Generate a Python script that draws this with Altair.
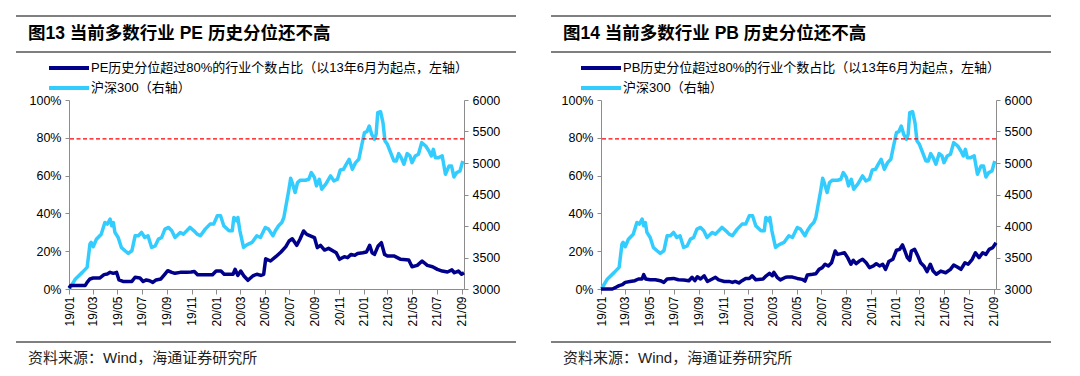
import altair as alt
import pandas as pd

# ---------------- text ----------------
CSI_LABEL = "沪深300（右轴）"
PE_LABEL = "PE历史分位超过80%的行业个数占比（以13年6月为起点，左轴）"
PB_LABEL = "PB历史分位超过80%的行业个数占比（以13年6月为起点，左轴）"
TITLE_L = "图13 当前多数行业 PE 历史分位还不高"
TITLE_R = "图14 当前多数行业 PB 历史分位还不高"
SOURCE = "资料来源：Wind，海通证券研究所"
THRESHOLD = [79.4]

# ---------------- data ----------------
csi_dates = [
    "2019-01-02", "2019-01-17", "2019-02-03", "2019-02-15", "2019-02-22", "2019-02-25",
    "2019-03-02", "2019-03-10", "2019-03-22", "2019-03-31", "2019-04-06", "2019-04-13",
    "2019-04-17", "2019-04-21", "2019-04-25", "2019-05-03", "2019-05-11", "2019-05-20",
    "2019-05-28", "2019-06-06", "2019-06-14", "2019-06-22", "2019-06-30", "2019-07-08",
    "2019-07-16", "2019-07-25", "2019-08-03", "2019-08-11", "2019-08-19", "2019-08-27",
    "2019-09-05", "2019-09-13", "2019-09-21", "2019-10-04", "2019-10-12", "2019-10-28",
    "2019-11-07", "2019-11-15", "2019-11-23", "2019-12-05", "2019-12-17", "2019-12-26",
    "2020-01-04", "2020-01-12", "2020-01-20", "2020-02-02", "2020-02-10", "2020-02-14",
    "2020-02-21", "2020-02-24", "2020-02-29", "2020-03-09", "2020-03-17", "2020-03-30",
    "2020-04-11", "2020-04-20", "2020-05-02", "2020-05-10", "2020-05-21", "2020-05-27",
    "2020-06-04", "2020-06-12", "2020-06-17", "2020-06-23", "2020-06-29", "2020-07-04",
    "2020-07-09", "2020-07-15", "2020-07-21", "2020-07-28", "2020-08-10", "2020-08-18",
    "2020-08-24", "2020-09-01", "2020-09-06", "2020-09-13", "2020-09-19", "2020-09-29",
    "2020-10-11", "2020-10-19", "2020-10-28", "2020-11-04", "2020-11-12", "2020-11-18",
    "2020-11-26", "2020-12-04", "2020-12-12", "2020-12-20", "2020-12-26", "2021-01-03",
    "2021-01-09", "2021-01-15", "2021-01-21", "2021-01-28", "2021-02-01", "2021-02-05",
    "2021-02-12", "2021-02-18", "2021-02-23", "2021-03-01", "2021-03-09", "2021-03-17",
    "2021-03-23", "2021-03-29", "2021-04-04", "2021-04-11", "2021-04-19", "2021-04-26",
    "2021-05-01", "2021-05-09", "2021-05-17", "2021-05-25", "2021-06-04", "2021-06-12",
    "2021-06-18", "2021-06-23", "2021-06-28", "2021-07-06", "2021-07-15", "2021-07-23",
    "2021-08-01", "2021-08-07", "2021-08-13", "2021-08-20", "2021-08-28", "2021-09-04",
]
csi_values = [
    3000, 3160, 3264, 3343, 3713, 3740,
    3670, 3790, 3870, 4056, 4030, 4109,
    4003, 4056, 3898, 3818, 3660, 3607,
    3565, 3607, 3845, 3845, 3898, 3818,
    3845, 3660, 3686, 3792, 3818, 3950,
    3977, 3924, 3818, 3898, 3871, 3977,
    3924, 3871, 3845, 3950, 4030, 4030,
    4162, 4162, 4003, 3924, 3924, 4135,
    4082, 4135, 3924, 3660, 3700, 3739,
    3845, 3818, 3977, 3950, 3845, 3924,
    4003, 4056, 4135, 4346, 4558, 4758,
    4664, 4531, 4690, 4727, 4727, 4742,
    4848, 4769, 4637, 4742, 4584, 4664,
    4795, 4716, 4742, 4890, 4900, 4969,
    5059, 4900, 5006, 5059, 5244, 5482,
    5497, 5587, 5455, 5376, 5455, 5798,
    5814, 5640, 5350, 5297, 5165, 5033,
    5033, 5149, 5085, 4980, 5149, 5112,
    5006, 5112, 5138, 5323, 5270, 5191,
    5112, 5217, 5085, 5085, 5112, 4822,
    4954, 4954, 4779, 4848, 4874, 5033,
]

pe_dates = [
    "2019-01-01", "2019-01-05", "2019-01-28", "2019-02-10", "2019-02-15", "2019-02-22",
    "2019-03-02", "2019-03-18", "2019-03-29", "2019-04-06", "2019-04-13", "2019-04-21",
    "2019-04-29", "2019-05-05", "2019-05-15", "2019-05-28", "2019-06-06", "2019-06-14",
    "2019-06-26", "2019-07-04", "2019-07-12", "2019-07-20", "2019-07-28", "2019-08-05",
    "2019-08-17", "2019-08-27", "2019-09-03", "2019-09-13", "2019-09-21", "2019-10-04",
    "2019-10-20", "2019-10-31", "2019-11-08", "2019-11-16", "2019-12-23", "2020-01-01",
    "2020-01-13", "2020-01-21", "2020-02-12", "2020-02-17", "2020-02-24", "2020-03-02",
    "2020-03-10", "2020-03-20", "2020-04-01", "2020-04-11", "2020-04-21", "2020-04-28",
    "2020-05-03", "2020-05-15", "2020-05-28", "2020-06-10", "2020-06-22", "2020-06-30",
    "2020-07-08", "2020-07-19", "2020-07-27", "2020-08-05", "2020-08-13", "2020-08-23",
    "2020-09-01", "2020-09-08", "2020-09-16", "2020-09-26", "2020-10-06", "2020-10-25",
    "2020-11-02", "2020-11-14", "2020-11-22", "2020-12-01", "2020-12-10", "2020-12-17",
    "2020-12-30", "2021-01-08", "2021-01-16", "2021-01-22", "2021-01-28", "2021-02-06",
    "2021-02-14", "2021-02-22", "2021-03-01", "2021-03-17", "2021-04-03", "2021-04-23",
    "2021-05-01", "2021-05-14", "2021-05-26", "2021-06-08", "2021-06-21", "2021-07-03",
    "2021-07-15", "2021-07-28", "2021-08-08", "2021-08-14", "2021-08-24", "2021-09-01",
    "2021-09-07",
]
pe_values = [
    0.5, 1.8, 1.8, 1.8, 3.5, 5.3,
    5.8, 5.8, 7.6, 7.9, 8.8, 8.3,
    8.8, 4.8, 4.0, 4.0, 4.0, 6.2,
    5.8, 4.0, 4.8, 4.4, 3.5, 4.8,
    5.3, 7.9, 9.7, 8.8, 8.3, 8.8,
    8.8, 9.0, 9.3, 7.5, 7.5, 9.5,
    9.5, 7.8, 7.8, 10.4, 7.2, 9.5,
    6.9, 4.6, 6.9, 7.8, 7.2, 7.8,
    16.0, 14.8, 17.1, 19.6, 22.4, 25.4,
    26.6, 23.1, 26.3, 30.7, 28.9, 28.0,
    27.2, 21.9, 23.1, 20.6, 21.5, 19.2,
    15.7, 17.1, 16.6, 18.3, 17.8, 18.8,
    19.2, 19.6, 23.1, 19.2, 18.3, 22.8,
    24.5, 18.3, 17.5, 17.5, 15.7, 15.3,
    11.8, 12.5, 14.8, 12.5, 11.8, 10.4,
    9.5, 9.0, 10.1, 8.6, 9.5, 7.8,
    8.6,
]

pb_dates = [
    "2019-01-01", "2019-01-29", "2019-02-07", "2019-02-15", "2019-02-23", "2019-03-02",
    "2019-03-14", "2019-03-26", "2019-04-04", "2019-04-13", "2019-04-17", "2019-04-22",
    "2019-05-03", "2019-05-16", "2019-05-28", "2019-06-06", "2019-06-14", "2019-06-30",
    "2019-07-12", "2019-07-25", "2019-08-07", "2019-08-15", "2019-08-22", "2019-08-28",
    "2019-09-05", "2019-09-14", "2019-09-22", "2019-10-04", "2019-10-12", "2019-10-20",
    "2019-11-03", "2019-11-15", "2019-11-23", "2019-11-30", "2019-12-09", "2019-12-17",
    "2019-12-26", "2020-01-04", "2020-01-11", "2020-01-20", "2020-02-07", "2020-02-15",
    "2020-02-23", "2020-03-01", "2020-03-05", "2020-03-13", "2020-03-21", "2020-04-03",
    "2020-04-08", "2020-04-20", "2020-05-02", "2020-05-14", "2020-05-21", "2020-05-27",
    "2020-06-09", "2020-06-17", "2020-06-25", "2020-07-03", "2020-07-10", "2020-07-18",
    "2020-07-26", "2020-08-04", "2020-08-10", "2020-08-18", "2020-08-27", "2020-09-04",
    "2020-09-12", "2020-09-18", "2020-09-25", "2020-10-03", "2020-10-11", "2020-10-20",
    "2020-10-28", "2020-11-07", "2020-11-14", "2020-11-22", "2020-11-30", "2020-12-07",
    "2020-12-15", "2020-12-25", "2021-01-03", "2021-01-11", "2021-01-18", "2021-01-24",
    "2021-01-30", "2021-02-05", "2021-02-09", "2021-02-17", "2021-02-25", "2021-03-04",
    "2021-03-12", "2021-03-20", "2021-03-28", "2021-04-04", "2021-04-12", "2021-04-23",
    "2021-05-05", "2021-05-17", "2021-05-25", "2021-06-03", "2021-06-12", "2021-06-22",
    "2021-06-30", "2021-07-10", "2021-07-18", "2021-07-27", "2021-08-05", "2021-08-13",
    "2021-08-21", "2021-08-30", "2021-09-07",
]
pb_values = [
    0.0, 0.0, 0.9, 1.8, 2.3, 3.5,
    4.0, 4.4, 5.3, 5.3, 7.6, 5.3,
    4.9, 4.9, 4.4, 3.5, 5.3, 5.6,
    4.9, 4.8, 4.4, 6.2, 4.4, 6.5,
    5.3, 7.0, 4.0, 5.3, 6.2, 4.8,
    4.0, 4.0, 3.5, 4.0, 3.2, 4.4,
    5.6, 5.6, 7.0, 4.9, 5.3, 7.0,
    8.3, 7.0, 8.8, 6.2, 4.8, 6.2,
    6.3, 6.3, 5.6, 5.1, 4.2, 7.4,
    7.8, 8.1, 10.4, 11.3, 13.1, 12.2,
    13.9, 20.1, 18.3, 18.7, 19.2, 16.6,
    13.1, 15.2, 13.4, 14.8, 15.7, 13.9,
    11.3, 12.2, 13.4, 12.2, 13.1, 10.4,
    14.5, 15.7, 20.5, 21.0, 23.3, 20.1,
    16.6, 15.2, 20.1, 21.0, 17.5, 13.9,
    12.2, 9.2, 13.1, 9.5, 7.8, 9.5,
    8.6, 10.4, 12.7, 11.6, 10.4, 13.9,
    13.1, 15.7, 19.2, 16.6, 19.2, 18.3,
    21.0, 21.9, 24.5,
]

tick_years = [2019] * 6 + [2020] * 6 + [2021] * 5
tick_months = [1, 3, 5, 7, 9, 11, 1, 3, 5, 7, 9, 11, 1, 3, 5, 7, 9]
left_ticks = [0, 20, 40, 60, 80, 100]
right_ticks = [3000, 3500, 4000, 4500, 5000, 5500, 6000]

# ---------------- style ----------------
NAVY = "#00008B"
SKY = "#33CCFF"
GRAY = "#8C8C8C"
LAT = "Liberation Sans"
MIX = "Liberation Sans, Noto Sans CJK SC"
W, H = 395, 189

tick_dt = [alt.DateTime(year=y, month=m, date=1) for y, m in zip(tick_years, tick_months)]


def one_row(text):
    return pd.DataFrame({"t": [text]})


def panel(pct_dates, pct_values, pct_label, title, rx0, rx1, tx):
    xenc = alt.X(
        "date:T",
        scale=alt.Scale(domain=[alt.DateTime(year=2019, month=1, date=1),
                                alt.DateTime(year=2021, month=9, date=7)]),
        axis=alt.Axis(values=tick_dt, format="%y/%m", labelAngle=270, title=None,
                      grid=False, domainColor=GRAY, tickColor=GRAY, tickSize=5,
                      labelFontSize=12, labelFont=LAT, labelColor="#000000",
                      labelPadding=2),
    )
    csi_df = pd.DataFrame({"date": csi_dates, "value": csi_values})
    pct_df = pd.DataFrame({"date": pct_dates, "value": pct_values})

    light = alt.Chart(csi_df).mark_line(color=SKY, strokeWidth=3.5, strokeJoin="round").encode(
        x=xenc,
        y=alt.Y("value:Q", scale=alt.Scale(domain=[3000, 6000], nice=False),
                axis=alt.Axis(orient="right", values=right_ticks, title=None, grid=False,
                              format="d",
                              domainColor=GRAY, tickColor=GRAY, tickSize=4,
                              labelFontSize=12.5, labelFont=LAT, labelColor="#000000",
                              labelPadding=4)),
    )
    dark = alt.Chart(pct_df).mark_line(color=NAVY, strokeWidth=3.5, strokeJoin="round").encode(
        x=xenc,
        y=alt.Y("value:Q", scale=alt.Scale(domain=[0, 100], nice=False),
                axis=alt.Axis(orient="left", values=left_ticks, title=None, grid=False,
                              labelExpr="datum.value + '%'",
                              domainColor=GRAY, tickColor=GRAY, tickSize=4,
                              labelFontSize=12.5, labelFont=LAT, labelColor="#000000",
                              labelPadding=4)),
    )
    thr = alt.Chart(pd.DataFrame({"v": THRESHOLD})).mark_rule(
        color="#FF0000", strokeDash=[4, 2.5], strokeWidth=1.3
    ).encode(y=alt.Y("v:Q", scale=alt.Scale(domain=[0, 100], nice=False), axis=None))

    deco = []
    for yy in (-84, -48, 242):
        deco.append(alt.Chart(one_row("")).mark_rule(color="#000000", strokeWidth=1).encode(
            x=alt.value(rx0), x2=alt.value(rx1), y=alt.value(yy)))
    deco.append(alt.Chart(one_row(title)).mark_text(
        align="left", baseline="middle", font=MIX, fontSize=17.5, fontWeight="bold",
        color="#000000").encode(x=alt.value(tx), y=alt.value(-66), text="t:N"))
    deco.append(alt.Chart(one_row(SOURCE)).mark_text(
        align="left", baseline="middle", font=MIX, fontSize=15,
        color="#222222").encode(x=alt.value(tx), y=alt.value(258), text="t:N"))
    for yy, lab, col in ((-32, pct_label, NAVY), (-12, CSI_LABEL, SKY)):
        deco.append(alt.Chart(one_row(lab)).mark_rule(color=col, strokeWidth=4).encode(
            x=alt.value(-20), x2=alt.value(20), y=alt.value(yy)))
        deco.append(alt.Chart(one_row(lab)).mark_text(
            align="left", baseline="middle", font=MIX, fontSize=13,
            color="#000000").encode(x=alt.value(22), y=alt.value(yy), text="t:N"))

    return alt.layer(light, dark, thr, *deco).resolve_scale(y="independent").properties(
        width=W, height=H)


left = panel(pe_dates, pe_values, PE_LABEL, TITLE_L, -53, 447, -41)
right = panel(pb_dates, pb_values, PB_LABEL, TITLE_R, -50, 450, -38)

chart = alt.hconcat(left, right, spacing=33).properties(
    padding={"left": 7, "top": 7, "right": 5, "bottom": 5},
    background="white",
).configure_view(stroke=None)

chart.save("out.html", embed_options={"renderer": "svg", "actions": False})
